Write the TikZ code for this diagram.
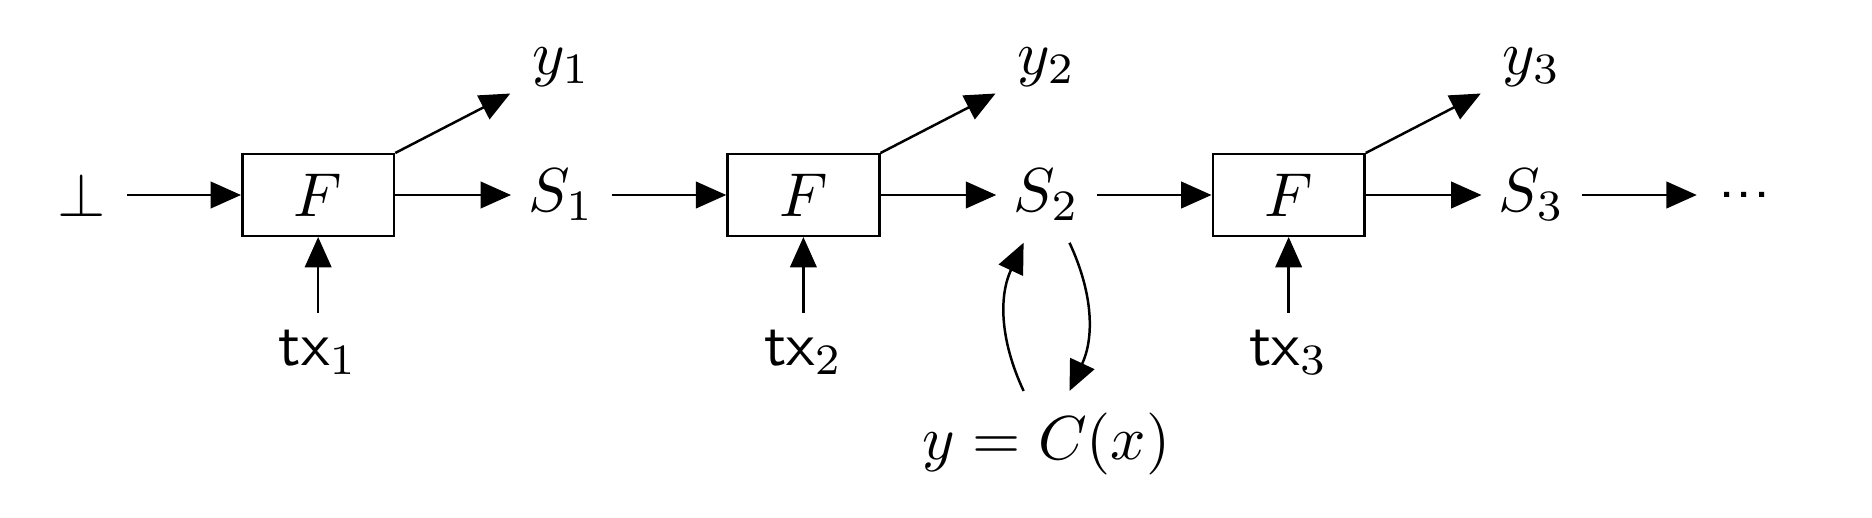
\documentclass[tikz,border=0pt]{standalone}
\usetikzlibrary{arrows.meta,positioning}
\tikzset{
  fblk/.style={rectangle, draw=black, minimum width=8.6mm, minimum height=4.62mm, inner sep=0pt},
  st/.style={inner xsep=2.6pt},
  inp/.style={inner ysep=2.5pt},
  ar/.style={-{Triangle[length=1.72mm, width=1.5mm]}},
}

\begin{document}
\begin{tikzpicture}
\useasboundingbox (-18.03mm,-18.30mm) rectangle (88.06mm,11.05mm);

% ================= state chain =================
\node[fblk] (f1) at (0,0) {$F$};
\node[left=6.45mm of f1] (bot) {$\perp$};
\node[st, right=6.56mm of f1] (s1) {$S_1$};
\node[fblk, right=6.5mm of s1] (f2) {$F$};
\node[st, right=6.56mm of f2] (s2) {$S_2$};
\node[fblk, right=6.5mm of s2] (f3) {$F$};
\node[st, right=6.56mm of f3] (s3) {$S_3$};
\node[right=6.5mm of s3] (more) {\textsf{...}};

\foreach \a/\b in {bot/f1, f1/s1, s1/f2, f2/s2, s2/f3, f3/s3, s3/more} {\draw[ar] (\a) -- (\b);}

% ================= inputs and outputs =================
\node[inp, below=4.3mm of f1] (tx1) {$\mathsf{tx}_1$};
\node[inp, below=4.3mm of f2] (tx2) {$\mathsf{tx}_2$};
\node[inp, below=4.3mm of f3] (tx3) {$\mathsf{tx}_3$};
\node[above=2.2mm of s1] (y1) {$y_1$};
\node[above=2.2mm of s2] (y2) {$y_2$};
\node[above=2.2mm of s3] (y3) {$y_3$};

\foreach \i in {1,2,3} {
  \draw[ar] (tx\i) -- (f\i);
  \draw[ar] (f\i.north east) -- (y\i);
}

% ================= query on a state =================
\node[below=8.4mm of s2] (cx) {$y = C(x)$};
\draw[ar] ([xshift=-1.3mm]cx.north) to[bend left=25] ([xshift=-1.3mm]s2.south);
\draw[ar] ([xshift=1.3mm]s2.south) to[bend left=25] ([xshift=1.3mm]cx.north);

\end{tikzpicture}
\end{document}
